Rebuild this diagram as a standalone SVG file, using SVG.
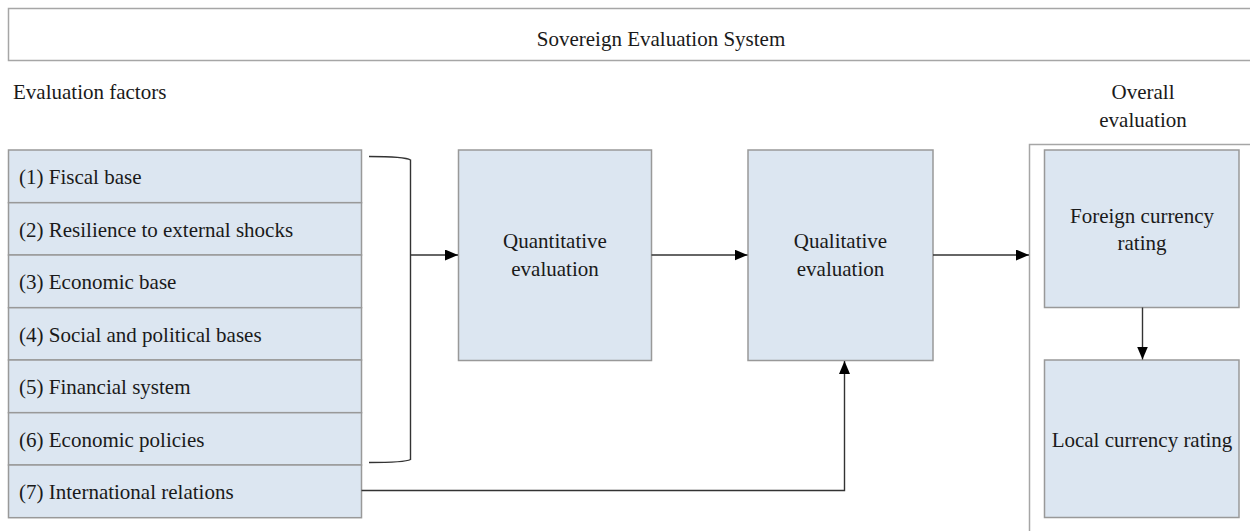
<svg xmlns="http://www.w3.org/2000/svg" width="1250" height="531" viewBox="0 0 1250 531">
<style>
text { font-family: "Liberation Serif", "Times New Roman", serif; font-size: 21px; fill: #1a1a1a; }
.box { fill: #dce6f1; stroke: #999999; stroke-width: 1.5; }
.frame { fill: #ffffff; stroke: #a6a6a6; stroke-width: 1.5; }
.conn { fill: none; stroke: #333333; stroke-width: 1.4; }
.mid { text-anchor: middle; }
</style>
<defs>
<marker id="arr" markerWidth="13" markerHeight="11" refX="13" refY="5.5" orient="auto" markerUnits="userSpaceOnUse">
<path d="M0,0 L13,5.5 L0,11 z" fill="#000000"/>
</marker>
</defs>
<rect width="1250" height="531" fill="#ffffff"/>
<g id="title">
<rect class="frame" x="8.5" y="8.5" width="1306" height="52"/>
<text class="mid" x="661" y="46">Sovereign Evaluation System</text>
</g>
<g id="label-factors">
<text x="13" y="99">Evaluation factors</text>
</g>
<g id="overall">
<text class="mid" x="1143" y="99">Overall</text>
<text class="mid" x="1143" y="127">evaluation</text>
<path class="frame" d="M1029.5,540 L1029.5,144.5 L1260,144.5" fill="none"/>
</g>
<g id="factor1"><rect class="box" x="8.5" y="150" width="353" height="52.7"/><text x="19" y="184">(1) Fiscal base</text></g>
<g id="factor2"><rect class="box" x="8.5" y="202.7" width="353" height="52.3"/><text x="19" y="237">(2) Resilience to external shocks</text></g>
<g id="factor3"><rect class="box" x="8.5" y="255" width="353" height="52.7"/><text x="19" y="289">(3) Economic base</text></g>
<g id="factor4"><rect class="box" x="8.5" y="307.7" width="353" height="52.3"/><text x="19" y="342">(4) Social and political bases</text></g>
<g id="factor5"><rect class="box" x="8.5" y="360" width="353" height="52.7"/><text x="19" y="394">(5) Financial system</text></g>
<g id="factor6"><rect class="box" x="8.5" y="412.7" width="353" height="52.3"/><text x="19" y="447">(6) Economic policies</text></g>
<g id="factor7"><rect class="box" x="8.5" y="465" width="353" height="52.7"/><text x="19" y="499">(7) International relations</text></g>
<g id="quantitative"><rect class="box" x="458.5" y="150" width="193" height="210.5"/><text class="mid" x="555" y="248">Quantitative</text><text class="mid" x="555" y="276">evaluation</text></g>
<g id="qualitative"><rect class="box" x="748" y="150" width="185" height="210.5"/><text class="mid" x="840.5" y="248">Qualitative</text><text class="mid" x="840.5" y="276">evaluation</text></g>
<g id="foreign"><rect class="box" x="1044.5" y="150" width="194.5" height="157.5"/><text class="mid" x="1142" y="223">Foreign currency</text><text class="mid" x="1142" y="250">rating</text></g>
<g id="local"><rect class="box" x="1044.5" y="360" width="194.5" height="157.5"/><text class="mid" x="1142" y="447">Local currency rating</text></g>
<g id="connectors">
<path class="conn" d="M369,156.5 Q405,156.5 410.5,160 L410.5,459.5 Q405,462.5 369,462.5"/>
<path class="conn" d="M410.5,255 L458,255" marker-end="url(#arr)"/>
<path class="conn" d="M651.5,255 L747.5,255" marker-end="url(#arr)"/>
<path class="conn" d="M933,255 L1029,255" marker-end="url(#arr)"/>
<path class="conn" d="M1142.5,307.5 L1142.5,359.5" marker-end="url(#arr)"/>
<path class="conn" d="M361.5,490.5 L844.5,490.5 L844.5,361" marker-end="url(#arr)"/>
</g>
</svg>
